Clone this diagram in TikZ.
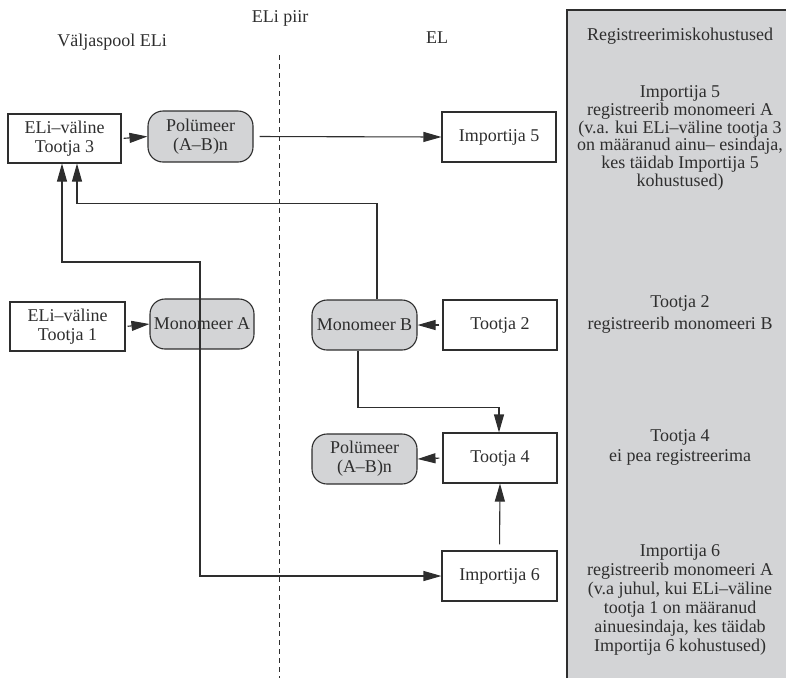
\documentclass[tikz,border=0pt]{standalone}
\usepackage{fontspec}
\setmainfont{Liberation Serif}
\usetikzlibrary{arrows.meta}
\definecolor{ink}{HTML}{2E2E2E}
\definecolor{panel}{HTML}{D3D4D6}
\definecolor{nodegray}{HTML}{D3D4D6}
\begin{document}
\begin{tikzpicture}[x=1pt,y=-1pt,
  every node/.style={font=\fontsize{18}{19}\selectfont, text=ink},
  ebox/.style={draw=ink, line width=1.1pt, fill=white, minimum width=114pt, minimum height=50pt, inner sep=0pt, align=center},
  gbox/.style={draw=ink, line width=1.1pt, fill=nodegray, rounded corners=15pt, minimum width=105pt, minimum height=50pt, inner sep=0pt, align=center},
  arr/.style={draw=ink, line width=1.1pt, -{Triangle[length=18pt,width=10pt]}},
  txt/.style={align=center, inner sep=0pt}]
\useasboundingbox (0,0) rectangle (786,678);
% right panel
\fill[panel] (567,10) rectangle (786,678);
\draw[ink, line width=1.2pt] (567,678) -- (567,10) -- (786,10);
% dashed border line
\draw[ink, line width=1pt, dash pattern=on 5pt off 4pt] (279,55) -- (279,678);
% headings
\node[txt] (hpiir) at (280,18) {ELi piir};
\node[txt] (hout) at (112,42) {Väljaspool ELi};
\node[txt] (hel) at (437,38) {EL};
\node[txt] (hreg) at (680,36) {Registreerimiskohustused};
% panel texts
\node[txt, font=\fontsize{18}{17.8}\selectfont] (r1) at (680,138) {Importija 5\\registreerib monomeeri A\\(v.a. kui ELi–väline tootja 3\\on määranud ainu– esindaja,\\kes täidab Importija 5\\kohustused)};
\node[txt, font=\fontsize{18}{22}\selectfont] (r2) at (680,314) {Tootja 2\\registreerib monomeeri B};
\node[txt, font=\fontsize{18}{20}\selectfont] (r3) at (680,447) {Tootja 4\\ei pea registreerima};
\node[txt, font=\fontsize{18}{19}\selectfont] (r4) at (680,600) {Importija 6\\registreerib monomeeri A\\(v.a juhul, kui ELi–väline\\tootja 1 on määranud\\ainuesindaja, kes täidab\\Importija 6 kohustused)};
% nodes
\node[ebox, minimum width=113pt, minimum height=49pt] (t3) at (64.5,138.5) {ELi–väline\\Tootja 3};
\node[gbox, minimum height=51pt] (p1) at (200.5,136.5) {Polümeer\\(A–B)n};
\node[ebox] (i5) at (499,137) {Importija 5};
\node[ebox, minimum width=115pt, minimum height=49pt] (t1) at (67.5,326.5) {ELi–väline\\Tootja 1};
\node[gbox, minimum width=104pt] (mA) at (202,324) {Monomeer A};
\node[gbox] (mB) at (364.5,325) {Monomeer B};
\node[ebox] (t2) at (500,325) {Tootja 2};
\node[ebox] (t4) at (500,458) {Tootja 4};
\node[gbox] (p2) at (364.5,459) {Polümeer\\(A–B)n};
\node[ebox, minimum width=115pt] (i6) at (499.5,576) {Importija 6};
% connectors
\draw[arr, shorten <=2pt] (t3.east) -- (p1.west);
\draw[arr, shorten <=6pt] (p1.east) -- (i5.west);
\draw[arr, shorten <=2pt] (t1.east) -- (mA.west);
\draw[arr, shorten <=3pt] (t2.west) -- (mB.east);
\draw[arr, shorten <=3pt] (t4.west) -- (p2.east);
\draw[arr, shorten <=6pt] (i6.north) -- (t4.south);
\draw[arr] ([xshift=-6.5pt]mB.south) -- ++(0,57) -| ([xshift=-1pt]t4.north);
\draw[arr] ([xshift=12.5pt]mB.north) -- ++(0,-96) -| ([xshift=12.5pt]t3.south);
\draw[arr] ([xshift=-2pt]mA.center) -- ++(0,-62) -| ([xshift=-2.5pt]t3.south);
\draw[arr] ([xshift=-2pt]mA.center) |- (i6.west);
\end{tikzpicture}
\end{document}
